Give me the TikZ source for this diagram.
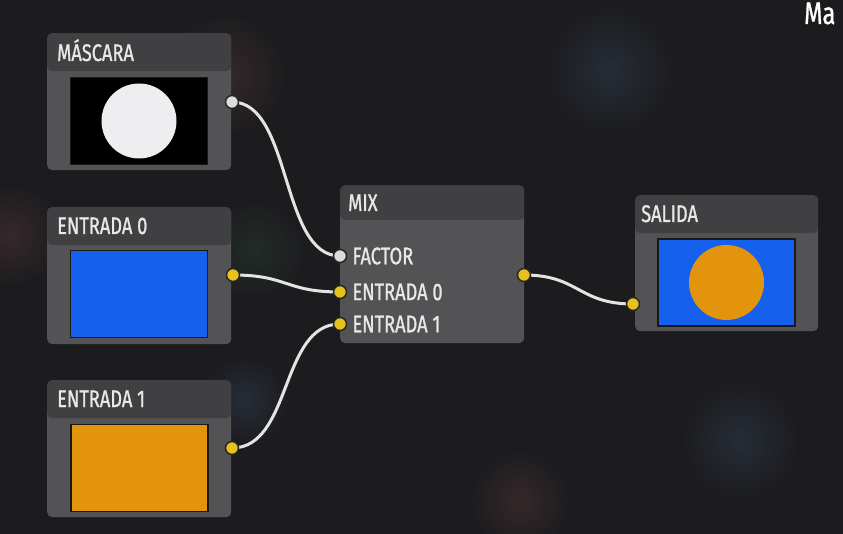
\documentclass[tikz,border=0pt]{standalone}
\usepackage{fontspec}
\setmainfont{Fira Sans}[FakeStretch=0.76, FakeBold=1]
\usetikzlibrary{positioning, calc}

\definecolor{bgcol}{HTML}{1C1C1F}
\definecolor{bodycol}{HTML}{535355}
\definecolor{headcol}{HTML}{403F42}
\definecolor{txtcol}{HTML}{E8E8E8}
\definecolor{wirecol}{HTML}{E4E4E4}
\definecolor{portyel}{HTML}{E8C21C}
\definecolor{portwht}{HTML}{DCDCDC}
\definecolor{imgblue}{HTML}{1560EC}
\definecolor{imgorange}{HTML}{E2940C}
\definecolor{maskdisc}{HTML}{EEEDEF}
\definecolor{blobred}{HTML}{36282A}
\definecolor{blobblue}{HTML}{262C36}
\definecolor{blobgreen}{HTML}{232C26}

\begin{document}
\begin{tikzpicture}[
    x=1pt, y=-1pt,
    panel/.style={rectangle, rounded corners=5pt, fill=bodycol, inner sep=0pt, anchor=north west,
        minimum width=184pt, minimum height=137pt,
        path picture={\fill[headcol] (path picture bounding box.north west) rectangle ([yshift=-#1]path picture bounding box.north east);}},
    panel/.default=38pt,
    title/.style={anchor=base west, inner sep=0pt, text=txtcol, font=\fontsize{24}{27}\selectfont},
    portlabel/.style={inner sep=0pt, text=txtcol, font=\fontsize{24}{27}\selectfont},
    img/.style={rectangle, draw=black!90, line width=1.5pt, minimum width=137pt, minimum height=87pt, inner sep=0pt},
    disc/.style={circle, minimum size=75pt, inner sep=0pt},
    port/.style={circle, draw=black!85, line width=1.5pt, minimum size=13pt, inner sep=0pt, fill=portyel},
    wire/.style={draw=wirecol, line width=3pt},
    blob/.style={outer color=bgcol, inner color=#1},
]
% background
\fill[bgcol] (0,0) rectangle (843,534);
\useasboundingbox (0,0) rectangle (843,534);
\shade[blob=blobred] (225,75) circle (60);
\shade[blob=blobblue] (610,70) circle (65);
\shade[blob=blobred] (10,235) circle (50);
\shade[blob=blobgreen] (255,250) circle (50);
\shade[blob=blobblue] (245,400) circle (45);
\shade[blob=blobblue] (740,440) circle (60);
\shade[blob=blobred] (520,500) circle (50);
\node[anchor=base west, inner sep=0pt, text=white, font=\fontsize{31}{34}\selectfont] (heading) at (804,24) {Ma};

% input panels
\node[panel] (mascara) at (47,33) {};
\node[panel] (entrada0) at (47,207) {};
\node[panel] (entrada1) at (47,380) {};
\node[title] (mascaraTitle) at ($(mascara.north west)+(10,28)$) {MÁSCARA};
\node[title] (entrada0Title) at ($(entrada0.north west)+(10,27)$) {ENTRADA 0};
\node[title] (entrada1Title) at ($(entrada1.north west)+(10,27)$) {ENTRADA 1};
\node[img, fill=black] (mascaraImg) at (139,121) {};
\node[disc, fill=maskdisc] (mascaraDisc) at (mascaraImg) {};
\node[img, fill=imgblue] (entrada0Img) at (139,294) {};
\node[img, fill=imgorange] (entrada1Img) at (139.5,468) {};

% mix and output panels
\node[panel=35pt, minimum height=158pt] (mix) at (340,185) {};
\node[panel, minimum width=183pt, minimum height=136pt] (salida) at (635,195) {};
\node[title] (mixTitle) at ($(mix.north west)+(8,26)$) {MIX};
\node[title] (salidaTitle) at ($(salida.north west)+(6,27)$) {SALIDA};
\node[img, fill=imgblue] (salidaImg) at (726.5,282.5) {};
\node[disc, fill=imgorange] (salidaDisc) at (salidaImg) {};

% ports
\coordinate (mascaraOut) at (232,102);
\coordinate (entrada0Out) at (233,275);
\coordinate (entrada1Out) at (232,448);
\coordinate (mixFactor) at (340,256);
\coordinate (mixIn0) at (340,292);
\coordinate (mixIn1) at (340,324);
\coordinate (mixOut) at (524,275);
\coordinate (salidaIn) at (633,304);

% wires
\draw[wire] (mascaraOut) .. controls +(60,0) and +(-60,0) .. (mixFactor);
\draw[wire] (entrada0Out) .. controls +(55,0) and +(-55,0) .. (mixIn0);
\draw[wire] (entrada1Out) .. controls +(60,0) and +(-60,0) .. (mixIn1);
\draw[wire] (mixOut) .. controls +(55,0) and +(-55,0) .. (salidaIn);

\node[port, fill=portwht] (mascaraDot) at (mascaraOut) {};
\node[port] (entrada0Dot) at (entrada0Out) {};
\node[port] (entrada1Dot) at (entrada1Out) {};
\node[port, fill=portwht] (factorDot) at (mixFactor) {};
\node[port] (in0Dot) at (mixIn0) {};
\node[port] (in1Dot) at (mixIn1) {};
\node[port] (outDot) at (mixOut) {};
\node[port] (salidaDot) at (salidaIn) {};

\node[portlabel, right=5pt of factorDot] (factorLbl) {FACTOR};
\node[portlabel, right=5pt of in0Dot] (in0Lbl) {ENTRADA 0};
\node[portlabel, right=5pt of in1Dot] (in1Lbl) {ENTRADA 1};
\end{tikzpicture}
\end{document}
